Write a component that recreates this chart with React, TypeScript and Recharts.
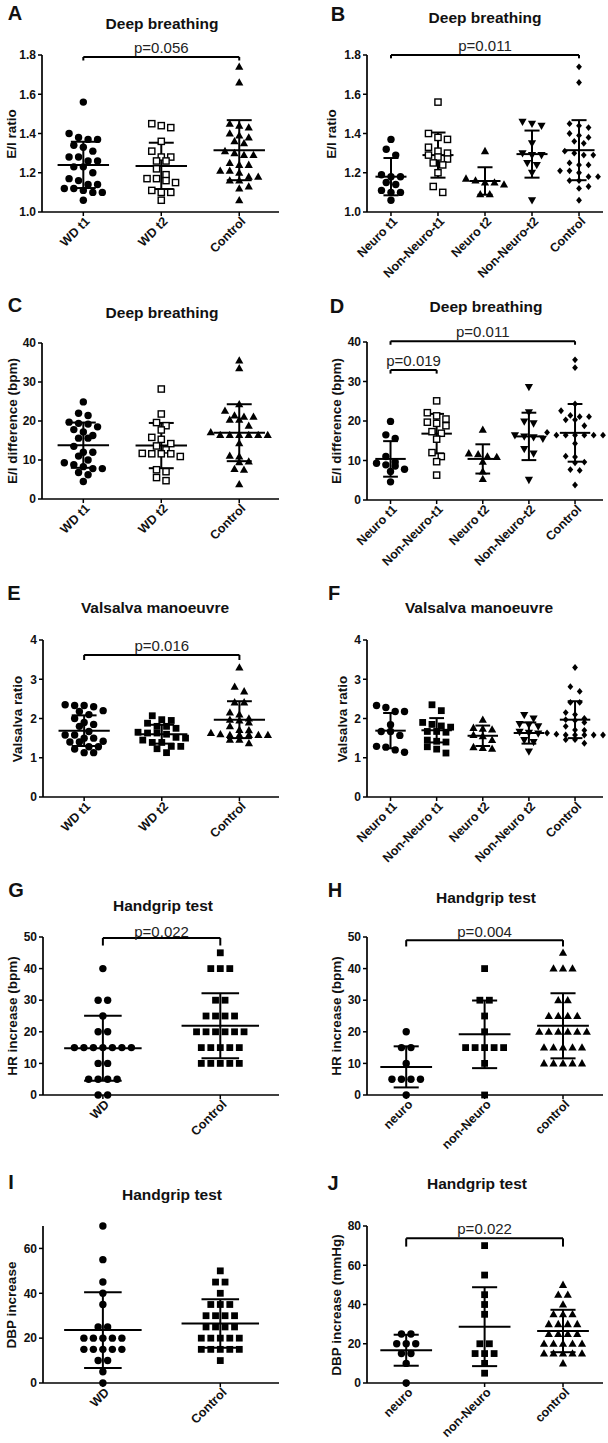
import React from "react";
import { ScatterChart, Scatter, XAxis, YAxis, ReferenceLine } from "recharts";

// category labels
const wdCats = ["WD t1", "WD t2", "Control"];
const subCatsB = ["Neuro t1", "Non-Neuro-t1", "Neuro t2", "Non-Neuro-t2", "Control"];
const subCatsF = ["Neuro t1", "Non-Neuro t1", "Neuro t2", "Non-Neuro t2", "Control"];
const hgCatsWd = ["WD", "Control"];
const hgCatsSub = ["neuro", "non-Neuro", "control"];

// A / B: E/I ratio
const eiRatioWdT1 = [1.56, 1.4, 1.38, 1.37, 1.37, 1.34, 1.33, 1.31, 1.28, 1.28, 1.26, 1.26, 1.23, 1.23, 1.2, 1.17, 1.16, 1.14, 1.14, 1.12, 1.12, 1.11, 1.1, 1.1, 1.06];
const eiRatioWdT2 = [1.45, 1.44, 1.43, 1.36, 1.31, 1.28, 1.28, 1.26, 1.26, 1.22, 1.19, 1.17, 1.17, 1.16, 1.15, 1.11, 1.1, 1.1, 1.06];
const eiRatioCtrl = [1.74, 1.66, 1.45, 1.44, 1.43, 1.4, 1.39, 1.38, 1.36, 1.35, 1.31, 1.3, 1.29, 1.29, 1.25, 1.24, 1.24, 1.21, 1.21, 1.2, 1.18, 1.18, 1.16, 1.16, 1.13, 1.12, 1.06];
const eiRatioNeuroT1 = [1.37, 1.32, 1.29, 1.19, 1.18, 1.18, 1.15, 1.14, 1.11, 1.1, 1.1, 1.06];
const eiRatioNonNeuroT1 = [1.56, 1.4, 1.38, 1.37, 1.33, 1.31, 1.3, 1.29, 1.28, 1.27, 1.25, 1.24, 1.2, 1.13, 1.1];
const eiRatioNeuroT2 = [1.31, 1.17, 1.16, 1.15, 1.15, 1.14, 1.09, 1.09];
const eiRatioNonNeuroT2 = [1.46, 1.45, 1.44, 1.35, 1.3, 1.29, 1.29, 1.25, 1.24, 1.2, 1.06];
const eiRatioMeanA = [1.24, 1.235, 1.315];
const eiRatioSdA = [0.118, 0.118, 0.153];
const eiRatioMeanB = [1.18, 1.29, 1.158, 1.295, 1.315];
const eiRatioSdB = [0.095, 0.115, 0.07, 0.12, 0.153];

// C / D: E/I difference (bpm)
const eiDiffWdT1 = [24.9, 22.0, 21.4, 19.7, 19.4, 19.2, 18.5, 17.8, 17.2, 16.3, 15.6, 15.6, 13.5, 12.0, 12.0, 11.0, 10.0, 9.3, 8.8, 8.3, 7.8, 7.8, 6.8, 6.2, 4.5];
const eiDiffWdT2 = [28.2, 21.8, 19.6, 18.8, 17.7, 15.8, 15.3, 14.2, 13.6, 12.6, 11.7, 11.6, 11.6, 11.6, 10.9, 7.5, 7.0, 5.5, 4.7];
const eiDiffCtrl = [35.5, 33.5, 24.3, 22.6, 21.4, 21.1, 21.1, 20.3, 20.3, 18.8, 17.1, 16.4, 16.4, 16.4, 16.4, 16.4, 16.4, 14.3, 11.1, 10.9, 9.6, 9.4, 7.7, 7.5, 3.8];
const eiDiffNeuroT1 = [19.9, 16.5, 15.6, 11.0, 9.6, 9.3, 8.9, 8.6, 7.8, 7.2, 4.6];
const eiDiffNonNeuroT1 = [25.1, 22.1, 21.3, 20.5, 19.7, 19.4, 18.8, 17.3, 16.9, 15.4, 12.0, 11.0, 9.7, 6.3];
const eiDiffNeuroT2 = [17.8, 11.8, 11.6, 11.0, 10.9, 9.7, 7.2, 5.3];
const eiDiffNonNeuroT2 = [28.6, 22.2, 19.9, 19.4, 16.4, 16.1, 15.9, 15.5, 12.9, 11.8, 5.1];
const eiDiffMeanC = [13.8, 13.7, 17.0];
const eiDiffSdC = [5.8, 5.8, 7.3];
const eiDiffMeanD = [10.4, 16.8, 10.4, 16.1, 17.0];
const eiDiffSdD = [4.5, 5.0, 3.7, 6.0, 7.3];

// E / F: Valsalva ratio
const valsWdT1 = [2.35, 2.33, 2.33, 2.3, 2.2, 2.18, 2.1, 2.0, 1.9, 1.85, 1.8, 1.67, 1.58, 1.58, 1.5, 1.5, 1.42, 1.4, 1.4, 1.28, 1.28, 1.22, 1.13, 1.13];
const valsWdT2 = [2.07, 1.97, 1.95, 1.88, 1.8, 1.8, 1.75, 1.65, 1.63, 1.63, 1.6, 1.52, 1.5, 1.45, 1.39, 1.39, 1.29, 1.29, 1.23, 1.13];
const valsCtrl = [3.3, 2.81, 2.69, 2.41, 2.41, 2.15, 2.1, 2.0, 1.97, 1.95, 1.9, 1.8, 1.71, 1.7, 1.63, 1.6, 1.58, 1.58, 1.58, 1.58, 1.58, 1.46, 1.46, 1.37];
const valsNeuroT1 = [2.33, 2.28, 2.18, 2.18, 1.84, 1.67, 1.67, 1.57, 1.29, 1.27, 1.2, 1.14];
const valsNonNeuroT1 = [2.35, 2.2, 1.9, 1.85, 1.81, 1.78, 1.67, 1.67, 1.65, 1.45, 1.42, 1.4, 1.28, 1.22, 1.12];
const valsNeuroT2 = [1.97, 1.76, 1.74, 1.72, 1.58, 1.55, 1.45, 1.27, 1.25, 1.23];
const valsNonNeuroT2 = [2.09, 2.0, 1.86, 1.84, 1.8, 1.66, 1.64, 1.62, 1.45, 1.4, 1.16];
const valsMeanE = [1.69, 1.6, 1.97];
const valsSdE = [0.39, 0.24, 0.47];
const valsMeanF = [1.69, 1.7, 1.56, 1.63, 1.97];
const valsSdF = [0.45, 0.31, 0.26, 0.27, 0.47];

// G / H: HR increase (bpm)
const hrWd = [40, 30, 30, 25, 20, 20, 15, 15, 15, 15, 15, 15, 15, 10, 10, 5, 5, 5, 5, 0, 0];
const hrCtrl = [45, 40, 40, 40, 30, 30, 25, 25, 25, 25, 20, 20, 20, 20, 20, 20, 15, 15, 15, 15, 15, 10, 10, 10, 10, 10];
const hrNeuro = [20, 15, 15, 10, 5, 5, 5, 5, 0];
const hrNonNeuro = [40, 30, 30, 25, 20, 15, 15, 15, 15, 15, 10, 0];
const hrMeanG = [14.8, 21.9];
const hrSdG = [10.3, 10.3];
const hrMeanH = [8.9, 19.2, 21.9];
const hrSdH = [6.5, 10.7, 10.3];

// I / J: DBP increase
const dbpWd = [70, 55, 45, 40, 35, 25, 25, 20, 20, 20, 20, 20, 15, 15, 15, 15, 15, 10, 10, 5, 0];
const dbpCtrl = [50, 45, 45, 40, 35, 35, 35, 30, 30, 30, 30, 25, 25, 25, 25, 20, 20, 20, 20, 20, 15, 15, 15, 15, 15, 10];
const dbpNeuro = [25, 25, 20, 20, 20, 15, 15, 10, 0];
const dbpNonNeuro = [70, 55, 45, 40, 35, 20, 20, 15, 15, 15, 10, 5];
const dbpMeanI = [23.6, 26.5];
const dbpSdI = [16.9, 10.8];
const dbpMeanJ = [16.7, 28.7, 26.5];
const dbpSdJ = [7.9, 20.1, 10.8];

type Shape = "circle" | "square" | "openSquare" | "triangle" | "triangleDown" | "diamond";
type Group = { values: number[]; shape: Shape; mean: number; sd: number };
type Bracket = { from: number; to: number; y: number; drop: number; text: string; offset?: number };

const FONT = "'Liberation Sans', Arial, sans-serif";
const INK = "#111";

function Marker({ cx, cy, kind }: { cx: number; cy: number; kind: Shape }) {
  switch (kind) {
    case "circle":
      return <circle cx={cx} cy={cy} r={3.7} fill="#000" />;
    case "square":
      return <rect x={cx - 3.4} y={cy - 3.4} width={6.8} height={6.8} fill="#000" />;
    case "openSquare":
      return <rect x={cx - 3.1} y={cy - 3.1} width={6.2} height={6.2} fill="#fff" stroke="#000" strokeWidth={1.4} />;
    case "triangle":
      return <polygon points={`${cx},${cy - 4.3} ${cx + 4.1},${cy + 3} ${cx - 4.1},${cy + 3}`} fill="#000" />;
    case "triangleDown":
      return <polygon points={`${cx},${cy + 4.3} ${cx + 4.1},${cy - 3} ${cx - 4.1},${cy - 3}`} fill="#000" />;
    default:
      return <polygon points={`${cx},${cy - 3.4} ${cx + 2.9},${cy} ${cx},${cy + 3.4} ${cx - 2.9},${cy}`} fill="#000" />;
  }
}

// GraphPad-like scatter: bin values into rows and centre each row on the category
function spread(values: number[], pxY: number, pxX: number) {
  const sorted = [...values].sort((a, b) => b - a);
  const rows: number[][] = [];
  let cur: number[] = [];
  for (const v of sorted) {
    if (cur.length && (cur[0] - v) * pxY > 6.5) {
      rows.push(cur);
      cur = [];
    }
    cur.push(v);
  }
  if (cur.length) rows.push(cur);
  const out: { dx: number; y: number }[] = [];
  rows.forEach((row) => {
    row.forEach((v, i) => out.push({ dx: ((i - (row.length - 1) / 2) * 9.5) / pxX, y: v }));
  });
  return out;
}

const makeXTick = (labels: string[]) => (props: any) => {
  const { x, y, payload } = props;
  const ax = x + 4;
  const ay = y + 1;
  return (
    <text x={ax} y={ay} dy="0.35em" textAnchor="end" transform={`rotate(-45 ${ax} ${ay})`} fontSize={12.5} fontWeight={700} fill={INK} fontFamily={FONT}>
      {labels[Math.round(payload.value)] ?? ""}
    </text>
  );
};

type PanelProps = {
  letter: string;
  letterPos: [number, number];
  title: string;
  titlePos: [number, number];
  yLabel: string;
  yLabelX: number;
  cats: string[];
  groups: Group[];
  yDomain: [number, number];
  yTicks: number[];
  decimals: number;
  box: { x0: number; x1: number; y0: number; y1: number };
  xDomain: [number, number];
  brackets?: Bracket[];
};

const lineStyle = { stroke: "#000", strokeWidth: 2, ifOverflow: "visible" as const };

function Panel(p: PanelProps) {
  const { box, xDomain, yDomain } = p;
  const ML = 45;
  const MT = 40;
  const XH = 80;
  const chartLeft = box.x0 - ML;
  const chartTop = box.y0 - MT;
  const width = box.x1 + 5 - chartLeft;
  const height = box.y1 - box.y0 + MT + XH;
  const pxX = (box.x1 - box.x0) / (xDomain[1] - xDomain[0]);
  const pxY = (box.y1 - box.y0) / (yDomain[1] - yDomain[0]);

  return (
    <>
      <div style={{ position: "absolute", left: p.letterPos[0], top: p.letterPos[1], transform: "translate(-50%,-50%)", fontSize: 20, fontWeight: 700, color: INK, lineHeight: 1 }}>
        {p.letter}
      </div>
      <div style={{ position: "absolute", left: p.titlePos[0], top: p.titlePos[1], transform: "translate(-50%,-50%)", fontSize: 15.5, fontWeight: 700, color: INK, whiteSpace: "nowrap", lineHeight: 1 }}>
        {p.title}
      </div>
      <div style={{ position: "absolute", left: p.yLabelX, top: (box.y0 + box.y1) / 2, transform: "translate(-50%,-50%) rotate(-90deg)", fontSize: 13.5, fontWeight: 700, color: INK, whiteSpace: "nowrap", lineHeight: 1 }}>
        {p.yLabel}
      </div>
      <div style={{ position: "absolute", left: chartLeft, top: chartTop }}>
        <ScatterChart width={width} height={height} margin={{ top: MT, right: 5, bottom: 0, left: 5 }}>
          <XAxis
            type="number"
            dataKey="x"
            domain={xDomain}
            ticks={p.cats.map((_, i) => i)}
            interval={0}
            height={XH}
            tick={makeXTick(p.cats)}
            tickSize={4}
            tickMargin={2}
            axisLine={{ stroke: "#000", strokeWidth: 1.7 }}
            tickLine={{ stroke: "#000", strokeWidth: 1.5 }}
          />
          <YAxis
            type="number"
            dataKey="y"
            domain={yDomain}
            ticks={p.yTicks}
            interval={0}
            width={40}
            tickFormatter={(v: number) => v.toFixed(p.decimals)}
            tick={{ fontSize: 12, fontWeight: 700, fill: INK, fontFamily: FONT }}
            tickSize={4}
            tickMargin={2}
            axisLine={{ stroke: "#000", strokeWidth: 1.7 }}
            tickLine={{ stroke: "#000", strokeWidth: 1.5 }}
          />
          {p.groups.map((g, i) => (
            <Scatter
              key={`s${i}`}
              data={spread(g.values, pxY, pxX).map((d) => ({ x: i + d.dx, y: d.y }))}
              isAnimationActive={false}
              shape={(props: any) => <Marker cx={props.cx} cy={props.cy} kind={g.shape} />}
            />
          ))}
          {p.groups.map((g, i) => (
            <ReferenceLine key={`m${i}`} segment={[{ x: i - 0.33, y: g.mean }, { x: i + 0.33, y: g.mean }]} {...lineStyle} />
          ))}
          {p.groups.map((g, i) => (
            <ReferenceLine key={`v${i}`} segment={[{ x: i, y: g.mean - g.sd }, { x: i, y: g.mean + g.sd }]} {...lineStyle} />
          ))}
          {p.groups.map((g, i) => (
            <ReferenceLine key={`u${i}`} segment={[{ x: i - 0.16, y: g.mean + g.sd }, { x: i + 0.16, y: g.mean + g.sd }]} {...lineStyle} />
          ))}
          {p.groups.map((g, i) => (
            <ReferenceLine key={`l${i}`} segment={[{ x: i - 0.16, y: g.mean - g.sd }, { x: i + 0.16, y: g.mean - g.sd }]} {...lineStyle} />
          ))}
          {(p.brackets ?? []).map((b, i) => (
            <ReferenceLine
              key={`b${i}`}
              segment={[{ x: b.from, y: b.y }, { x: b.to, y: b.y }]}
              {...lineStyle}
              label={{ value: b.text, position: "top", offset: b.offset ?? 4, fontSize: 15, fill: "#222", fontFamily: FONT }}
            />
          ))}
          {(p.brackets ?? []).map((b, i) => (
            <ReferenceLine key={`bl${i}`} segment={[{ x: b.from, y: b.y }, { x: b.from, y: b.y - b.drop }]} {...lineStyle} />
          ))}
          {(p.brackets ?? []).map((b, i) => (
            <ReferenceLine key={`br${i}`} segment={[{ x: b.to, y: b.y }, { x: b.to, y: b.y - b.drop }]} {...lineStyle} />
          ))}
        </ScatterChart>
      </div>
    </>
  );
}

const grp = (values: number[], shape: Shape, means: number[], sds: number[], i: number): Group => ({
  values,
  shape,
  mean: means[i],
  sd: sds[i],
});

const subShapes: Shape[] = ["circle", "openSquare", "triangle", "triangleDown", "diamond"];

export default function App() {
  const left = { x0: 42, x1: 279 };
  const right = { x0: 367, x1: 603 };
  return (
    <div style={{ position: "absolute", left: 0, top: 0, width: 608, height: 1443, background: "#fff", fontFamily: FONT }}>
      <Panel
        letter="A"
        letterPos={[15, 13]}
        title="Deep breathing"
        titlePos={[162, 24]}
        yLabel="E/I ratio"
        yLabelX={12}
        cats={wdCats}
        groups={[
          grp(eiRatioWdT1, "circle", eiRatioMeanA, eiRatioSdA, 0),
          grp(eiRatioWdT2, "openSquare", eiRatioMeanA, eiRatioSdA, 1),
          grp(eiRatioCtrl, "triangle", eiRatioMeanA, eiRatioSdA, 2),
        ]}
        yDomain={[1.0, 1.8]}
        yTicks={[1.0, 1.2, 1.4, 1.6, 1.8]}
        decimals={1}
        box={{ ...left, y0: 55, y1: 212 }}
        xDomain={[-0.53, 2.51]}
        brackets={[{ from: 0, to: 2, y: 1.79, drop: 0.018, text: "p=0.056" }]}
      />
      <Panel
        letter="B"
        letterPos={[338, 14]}
        title="Deep breathing"
        titlePos={[485, 18]}
        yLabel="E/I ratio"
        yLabelX={332}
        cats={subCatsB}
        groups={[eiRatioNeuroT1, eiRatioNonNeuroT1, eiRatioNeuroT2, eiRatioNonNeuroT2, eiRatioCtrl].map((v, i) =>
          grp(v, subShapes[i], eiRatioMeanB, eiRatioSdB, i)
        )}
        yDomain={[1.0, 1.8]}
        yTicks={[1.0, 1.2, 1.4, 1.6, 1.8]}
        decimals={1}
        box={{ ...right, y0: 55, y1: 212 }}
        xDomain={[-0.51, 4.51]}
        brackets={[{ from: 0, to: 4, y: 1.8, drop: 0.017, text: "p=0.011" }]}
      />
      <Panel
        letter="C"
        letterPos={[15, 305]}
        title="Deep breathing"
        titlePos={[162, 313]}
        yLabel="E/I difference (bpm)"
        yLabelX={13}
        cats={wdCats}
        groups={[
          grp(eiDiffWdT1, "circle", eiDiffMeanC, eiDiffSdC, 0),
          grp(eiDiffWdT2, "openSquare", eiDiffMeanC, eiDiffSdC, 1),
          grp(eiDiffCtrl, "triangle", eiDiffMeanC, eiDiffSdC, 2),
        ]}
        yDomain={[0, 40]}
        yTicks={[0, 10, 20, 30, 40]}
        decimals={0}
        box={{ ...left, y0: 343, y1: 499 }}
        xDomain={[-0.53, 2.51]}
      />
      <Panel
        letter="D"
        letterPos={[337, 306]}
        title="Deep breathing"
        titlePos={[486, 307]}
        yLabel="E/I difference (bpm)"
        yLabelX={337}
        cats={subCatsB}
        groups={[eiDiffNeuroT1, eiDiffNonNeuroT1, eiDiffNeuroT2, eiDiffNonNeuroT2, eiDiffCtrl].map((v, i) =>
          grp(v, subShapes[i], eiDiffMeanD, eiDiffSdD, i)
        )}
        yDomain={[0, 40]}
        yTicks={[0, 10, 20, 30, 40]}
        decimals={0}
        box={{ ...right, y0: 342, y1: 500 }}
        xDomain={[-0.51, 4.51]}
        brackets={[
          { from: 0, to: 4, y: 40.2, drop: 0.9, text: "p=0.011" },
          { from: 0, to: 1, y: 32.9, drop: 0.9, text: "p=0.019" },
        ]}
      />
      <Panel
        letter="E"
        letterPos={[14, 593]}
        title="Valsalva manoeuvre"
        titlePos={[155, 608]}
        yLabel="Valsalva ratio"
        yLabelX={18}
        cats={wdCats}
        groups={[
          grp(valsWdT1, "circle", valsMeanE, valsSdE, 0),
          grp(valsWdT2, "square", valsMeanE, valsSdE, 1),
          grp(valsCtrl, "triangle", valsMeanE, valsSdE, 2),
        ]}
        yDomain={[0, 4]}
        yTicks={[0, 1, 2, 3, 4]}
        decimals={0}
        box={{ x0: 43, x1: 279, y0: 640, y1: 797 }}
        xDomain={[-0.53, 2.51]}
        brackets={[{ from: 0, to: 2, y: 3.62, drop: 0.13, text: "p=0.016" }]}
      />
      <Panel
        letter="F"
        letterPos={[334, 593]}
        title="Valsalva manoeuvre"
        titlePos={[479, 608]}
        yLabel="Valsalva ratio"
        yLabelX={343}
        cats={subCatsF}
        groups={[valsNeuroT1, valsNonNeuroT1, valsNeuroT2, valsNonNeuroT2, valsCtrl].map((v, i) =>
          grp(v, (["circle", "square", "triangle", "triangleDown", "diamond"] as Shape[])[i], valsMeanF, valsSdF, i)
        )}
        yDomain={[0, 4]}
        yTicks={[0, 1, 2, 3, 4]}
        decimals={0}
        box={{ ...right, y0: 640, y1: 797 }}
        xDomain={[-0.51, 4.51]}
      />
      <Panel
        letter="G"
        letterPos={[16, 890]}
        title="Handgrip test"
        titlePos={[163, 906]}
        yLabel="HR increase (bpm)"
        yLabelX={13}
        cats={hgCatsWd}
        groups={[grp(hrWd, "circle", hrMeanG, hrSdG, 0), grp(hrCtrl, "square", hrMeanG, hrSdG, 1)]}
        yDomain={[0, 50]}
        yTicks={[0, 10, 20, 30, 40, 50]}
        decimals={0}
        box={{ x0: 43, x1: 279, y0: 937, y1: 1095 }}
        xDomain={[-0.51, 1.5]}
        brackets={[{ from: 0, to: 1, y: 49.7, drop: 2.4, text: "p=0.022", offset: 1 }]}
      />
      <Panel
        letter="H"
        letterPos={[335, 890]}
        title="Handgrip test"
        titlePos={[486, 898]}
        yLabel="HR increase (bpm)"
        yLabelX={337}
        cats={hgCatsSub}
        groups={[
          grp(hrNeuro, "circle", hrMeanH, hrSdH, 0),
          grp(hrNonNeuro, "square", hrMeanH, hrSdH, 1),
          grp(hrCtrl, "triangle", hrMeanH, hrSdH, 2),
        ]}
        yDomain={[0, 50]}
        yTicks={[0, 10, 20, 30, 40, 50]}
        decimals={0}
        box={{ ...right, y0: 937, y1: 1095 }}
        xDomain={[-0.5, 2.51]}
        brackets={[{ from: 0, to: 2, y: 49, drop: 2, text: "p=0.004", offset: 3 }]}
      />
      <Panel
        letter="I"
        letterPos={[11, 1182]}
        title="Handgrip test"
        titlePos={[172, 1195]}
        yLabel="DBP increase"
        yLabelX={12}
        cats={hgCatsWd}
        groups={[grp(dbpWd, "circle", dbpMeanI, dbpSdI, 0), grp(dbpCtrl, "square", dbpMeanI, dbpSdI, 1)]}
        yDomain={[0, 70]}
        yTicks={[0, 20, 40, 60]}
        decimals={0}
        box={{ x0: 43, x1: 279, y0: 1226, y1: 1383 }}
        xDomain={[-0.51, 1.5]}
      />
      <Panel
        letter="J"
        letterPos={[333, 1183]}
        title="Handgrip test"
        titlePos={[477, 1184]}
        yLabel="DBP increase (mmHg)"
        yLabelX={337}
        cats={hgCatsSub}
        groups={[
          grp(dbpNeuro, "circle", dbpMeanJ, dbpSdJ, 0),
          grp(dbpNonNeuro, "square", dbpMeanJ, dbpSdJ, 1),
          grp(dbpCtrl, "triangle", dbpMeanJ, dbpSdJ, 2),
        ]}
        yDomain={[0, 80]}
        yTicks={[0, 20, 40, 60, 80]}
        decimals={0}
        box={{ ...right, y0: 1226, y1: 1383 }}
        xDomain={[-0.5, 2.51]}
        brackets={[{ from: 0, to: 2, y: 73.7, drop: 4.2, text: "p=0.022" }]}
      />
    </div>
  );
}
